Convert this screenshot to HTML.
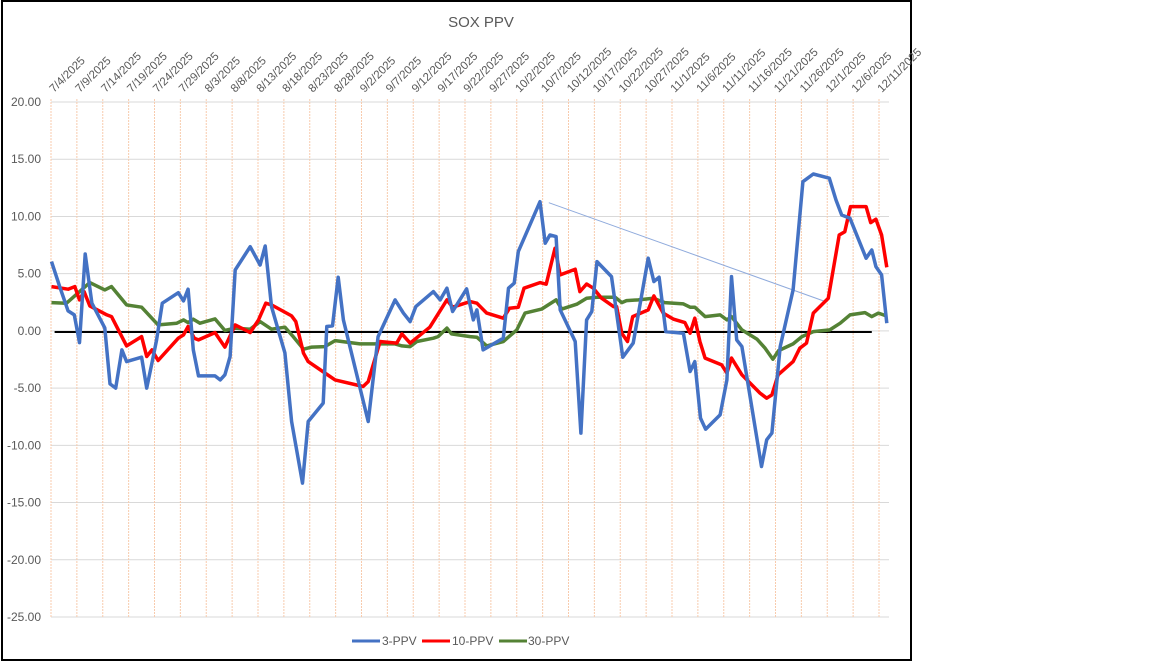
<!DOCTYPE html>
<html><head><meta charset="utf-8"><style>
html,body{margin:0;padding:0;background:#fff;}
svg{display:block;font-family:"Liberation Sans",sans-serif;}
</style></head><body>
<svg id="chart" width="1152" height="662" viewBox="0 0 1152 662">
<rect x="2" y="1" width="909" height="659" fill="#fff" stroke="#000" stroke-width="2"/>
<text x="481" y="27" font-size="15" fill="#595959" text-anchor="middle">SOX PPV</text>
<g id="grid"></g>
<g id="xlabels"></g>
<g id="ylabels"></g>
<g id="series"></g>
<g>
 <line x1="352" y1="641" x2="380" y2="641" stroke="#4472c4" stroke-width="3"/>
 <text x="382" y="645" font-size="12" fill="#595959">3-PPV</text>
 <line x1="422" y1="641" x2="450" y2="641" stroke="#ff0000" stroke-width="3"/>
 <text x="452" y="645" font-size="12" fill="#595959">10-PPV</text>
 <line x1="499" y1="641" x2="527" y2="641" stroke="#548235" stroke-width="3"/>
 <text x="528" y="645" font-size="12" fill="#595959">30-PPV</text>
</g>
</svg>
<script>
const yTicks = [20,15,10,5,0,-5,-10,-15,-20,-25];
const xTickDays = [0,5,10,15,20,25,30,35,40,45,50,55,60,65,70,75,80,85,90,95,100,105,110,115,120,125,130,135,140,145,150,155,160];
const xTickLabels = ["7/4/2025","7/9/2025","7/14/2025","7/19/2025","7/24/2025","7/29/2025","8/3/2025","8/8/2025","8/13/2025","8/18/2025","8/23/2025","8/28/2025","9/2/2025","9/7/2025","9/12/2025","9/17/2025","9/22/2025","9/27/2025","10/2/2025","10/7/2025","10/12/2025","10/17/2025","10/22/2025","10/27/2025","11/1/2025","11/6/2025","11/11/2025","11/16/2025","11/21/2025","11/26/2025","12/1/2025","12/6/2025","12/11/2025"];
// days since 7/4/2025
const blueDays = [0.1,1.7,3.3,4.5,5.5,6.6,7.9,10.4,11.4,12.5,13.7,14.6,17.5,18.5,19.5,20.4,21.5,24.6,25.6,26.5,27.5,28.5,31.7,32.7,33.6,34.6,35.6,38.5,40.4,41.4,42.6,43.9,45.2,46.5,48.6,49.7,52.6,53.3,54.4,55.5,56.5,61.3,63.2,66.5,68.1,69.4,70.5,73.9,75.2,76.5,77.6,80.3,81.6,82.3,83.5,87.4,88.4,89.5,90.3,94.5,95.5,96.4,97.6,98.4,101.3,102.4,103.5,104.5,105.5,108.3,110.5,112.5,115.4,116.5,117.5,118.8,122.2,123.5,124.4,125.5,126.5,129.3,130.6,131.5,132.5,133.5,137.3,138.3,139.3,140.9,143.4,145.3,147.3,150.4,151.7,152.8,154.4,157.5,158.6,159.4,160.5,161.5];
const blueVals = [6.05,3.84,1.75,1.40,-1.02,6.72,2.42,0.26,-4.63,-5.00,-1.66,-2.68,-2.30,-5.00,-2.82,-0.79,2.42,3.34,2.62,3.64,-1.66,-3.93,-3.93,-4.28,-3.84,-2.24,5.33,7.36,5.76,7.42,2.12,0.09,-1.92,-7.92,-13.3,-7.92,-6.31,0.38,0.44,4.69,0.96,-7.92,-0.50,2.71,1.55,0.81,2.12,3.43,2.71,3.73,1.69,3.67,0.96,1.83,-1.66,-0.64,3.73,4.17,6.93,11.29,7.66,8.38,8.24,1.83,-0.93,-8.93,0.96,1.69,6.05,4.74,-2.30,-1.07,6.35,4.31,4.69,-0.06,-0.20,-3.55,-2.68,-7.62,-8.59,-7.34,-4.28,4.74,-0.79,-1.37,-11.85,-9.52,-8.93,-1.37,3.58,13.04,13.71,13.34,11.44,10.13,9.84,6.35,7.07,5.62,4.89,0.67];
const redDays = [0.1,3.3,4.6,5.5,6.4,7.5,10.8,11.7,14.6,17.5,18.5,19.5,20.7,24.6,25.6,26.5,27.7,28.5,31.7,33.6,35.6,38.5,40.1,41.5,42.6,46.5,47.3,48.8,49.7,52.8,54.9,60.3,61.3,63.6,66.8,67.8,69.4,73.2,76.5,77.6,81.0,82.3,84.2,87.4,88.6,90.3,91.4,94.5,95.7,97.4,98.4,101.3,102.2,103.5,104.8,106.4,108.7,109.3,110.3,111.4,112.4,115.4,116.5,118.3,120.3,122.5,123.5,124.4,125.4,126.4,129.6,130.6,131.5,133.5,137.0,138.3,139.3,140.5,143.4,144.7,146.0,147.3,150.2,152.3,153.4,154.5,157.5,158.4,159.4,160.5,161.5];
const redVals = [3.87,3.64,3.87,2.71,3.43,2.18,1.40,1.25,-1.31,-0.50,-2.24,-1.66,-2.59,-0.64,-0.35,0.38,-0.64,-0.79,-0.15,-1.42,0.52,-0.15,0.96,2.42,2.27,1.31,0.81,-1.95,-2.68,-3.64,-4.28,-4.86,-4.43,-0.93,-1.07,-0.26,-1.07,0.32,2.71,2.07,2.56,2.42,1.55,1.11,1.98,2.07,3.73,4.22,4.08,7.22,4.89,5.39,3.43,4.10,3.73,2.86,2.12,2.12,-0.20,-0.93,1.25,1.83,3.06,1.55,1.02,0.72,-0.20,1.11,-0.93,-2.38,-2.97,-3.69,-2.38,-3.84,-5.44,-5.88,-5.59,-3.84,-2.68,-1.51,-1.07,1.55,2.86,8.38,8.67,10.86,10.86,9.46,9.76,8.38,5.56];
const greenDays = [0.1,3.0,7.5,10.4,11.7,14.6,17.5,20.7,24.3,25.6,26.5,27.5,28.8,31.7,33.6,35.6,38.5,40.4,42.6,45.2,46.8,48.8,50.4,52.9,54.9,59.7,66.5,67.8,69.4,70.7,73.9,74.8,76.5,77.4,81.0,82.3,84.2,87.4,90.0,91.6,94.8,97.6,98.7,101.6,103.5,105.5,109.0,110.3,111.2,113.5,116.4,118.6,122.2,123.5,124.4,126.4,129.3,130.6,131.5,133.5,136.4,138.0,139.5,140.6,143.4,145.1,147.3,150.5,152.5,154.4,157.3,158.6,159.9,161.4];
const greenVals = [2.47,2.42,4.22,3.58,3.87,2.27,2.07,0.52,0.67,0.96,0.72,1.02,0.67,1.05,0.03,0.24,0.15,0.81,0.15,0.32,-0.50,-1.60,-1.42,-1.37,-0.85,-1.14,-1.14,-1.31,-1.37,-0.93,-0.64,-0.50,0.24,-0.26,-0.50,-0.55,-1.31,-0.93,0.09,1.55,1.90,2.71,1.90,2.33,2.86,2.94,2.94,2.47,2.65,2.71,2.86,2.47,2.36,2.07,2.07,1.25,1.40,0.96,1.25,0.09,-0.72,-1.51,-2.47,-1.72,-1.14,-0.50,-0.06,0.09,0.67,1.40,1.60,1.25,1.55,1.31];
const baselineDays = [0.7,158.6];
const baselineVals = [-0.1,-0.1];
const trendDays = [96.2,149.8];
const trendVals = [11.2,2.53];

const NS="http://www.w3.org/2000/svg";
const X0=51, X1=889, Y0=102, Y1=617;
function xs(d){return X0+d*5.175;}
function ys(v){return Y0+(20-v)*(Y1-Y0)/45;}
function mk(tag,attrs,parent){const e=document.createElementNS(NS,tag);for(const k in attrs)e.setAttribute(k,attrs[k]);parent.appendChild(e);return e;}
const grid=document.getElementById('grid');
yTicks.forEach(v=>{
  const l=mk('line',{x1:X0,x2:X1,y1:ys(v),y2:ys(v),stroke:'#d9d9d9','stroke-width':1},grid);
  
  
  const t=mk('text',{x:41,y:ys(v)+4,'font-size':12,fill:'#595959','text-anchor':'end'},document.getElementById('ylabels'));
  t.textContent=v.toFixed(2);
  
  
});
xTickDays.forEach((d,i)=>{
  const l=mk('line',{x1:xs(d),x2:xs(d),y1:Y0-3,y2:Y1,stroke:'#f8cbad','stroke-width':1,'stroke-dasharray':'2,1'},grid);
  
  
  const x=xs(d)+3, y=93;
  const t=mk('text',{x:x,y:y,'font-size':11.5,fill:'#595959',transform:`rotate(-45 ${x} ${y})`},document.getElementById('xlabels'));
  t.textContent=xTickLabels[i];
  
  
});
const ser=document.getElementById('series');
function line(days,vals,color,w,name){
  const pts=days.map((d,i)=>xs(d).toFixed(1)+','+ys(vals[i]).toFixed(1)).join(' ');
  const p=mk('polyline',{points:pts,fill:'none',stroke:color,'stroke-width':w,'stroke-linejoin':'round'},ser);
  
  
}
line(baselineDays,baselineVals,'#000',2,'zero-baseline');
line(trendDays,trendVals,'#8faadc',1,'trendline');
line(greenDays,greenVals,'#548235',3.5,'series-30ppv');
line(redDays,redVals,'#ff0000',3.5,'series-10ppv');
line(blueDays,blueVals,'#4472c4',3.5,'series-3ppv');
</script>
</body></html>
